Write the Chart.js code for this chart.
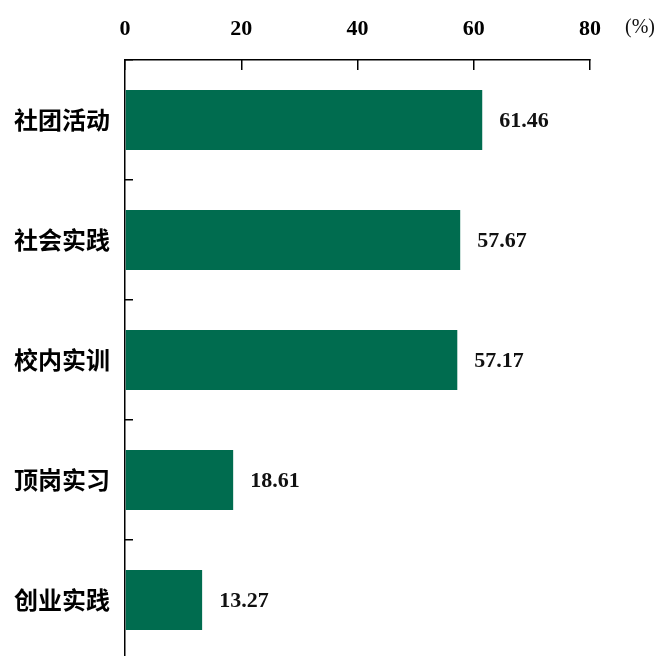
<!DOCTYPE html>
<html lang="zh-CN">
<head>
    <meta charset="UTF-8">
    <title>实践活动</title>
    <script src="https://cdn.jsdelivr.net/npm/chart.js"></script>
    <style>
        html, body { margin: 0; padding: 0; overflow: hidden; background: #fff; }
        #grafico { position: absolute; left: 0; top: 0; }
    </style>
</head>
<body>
    <canvas id="grafico" width="658" height="670" style="width:658px;height:670px;"></canvas>

    <script>
        // dados
        const categorias = ['社团活动', '社会实践', '校内实训', '顶岗实习', '创业实践']
        const valores = [61.46, 57.67, 57.17, 18.61, 13.27]
        const eixoMin = 0
        const eixoMax = 80
        const passo = 20
        const unidade = '(%)'

        const serif = '"Liberation Serif", "Times New Roman", serif'

        // rotulos no fim das barras
        const rotulos = {
            id: 'rotulos',
            afterDatasetsDraw(chart) {
                const ctx = chart.ctx
                const meta = chart.getDatasetMeta(0)
                ctx.save()
                ctx.font = 'bold 22px ' + serif
                ctx.fillStyle = '#111'
                ctx.textAlign = 'left'
                ctx.textBaseline = 'middle'
                meta.data.forEach((bar, i) => {
                    ctx.fillText(valores[i].toFixed(2), bar.x + 17, bar.y + 1)
                })
                // unidade do eixo
                const sx = chart.scales.x
                ctx.font = '20px ' + serif
                ctx.fillText(unidade, sx.right + 35, 28)
                ctx.restore()
            }
        }

        const ctx = document.getElementById('grafico')
        let grafico = new Chart(ctx, {
            type: 'bar',
            data: {
                labels: categorias,
                datasets: [{
                    data: valores,
                    backgroundColor: '#006C4F',
                    borderWidth: 0,
                    barPercentage: 0.5,
                    categoryPercentage: 1
                }]
            },
            options: {
                indexAxis: 'y',
                responsive: false,
                animation: false,
                layout: { padding: { left: 0, top: 0, right: 68, bottom: 10 } },
                plugins: {
                    legend: { display: false },
                    tooltip: { enabled: false }
                },
                scales: {
                    x: {
                        position: 'top',
                        min: eixoMin,
                        max: eixoMax,
                        ticks: {
                            stepSize: passo,
                            color: '#000',
                            padding: 27,
                            font: { family: serif, size: 22, weight: 'bold' }
                        },
                        grid: {
                            drawOnChartArea: false,
                            tickLength: -10,
                            color: '#000',
                            lineWidth: 1.5
                        },
                        border: { display: true, color: '#000', width: 1.5 },
                        afterFit(scale) { scale.height = 60 }
                    },
                    y: {
                        ticks: {
                            color: '#000',
                            padding: 23,
                            font: { family: '"Noto Sans CJK SC", sans-serif', size: 24, weight: 'bold' }
                        },
                        grid: {
                            drawOnChartArea: false,
                            tickLength: -8,
                            color: '#000',
                            lineWidth: 1.5
                        },
                        border: { display: true, color: '#000', width: 1.5 },
                        afterFit(scale) {
                            scale.width = 125
                            scale.paddingTop = 0
                            scale.paddingBottom = 0
                        }
                    }
                }
            },
            plugins: [rotulos]
        })
    </script>
</body>
</html>
